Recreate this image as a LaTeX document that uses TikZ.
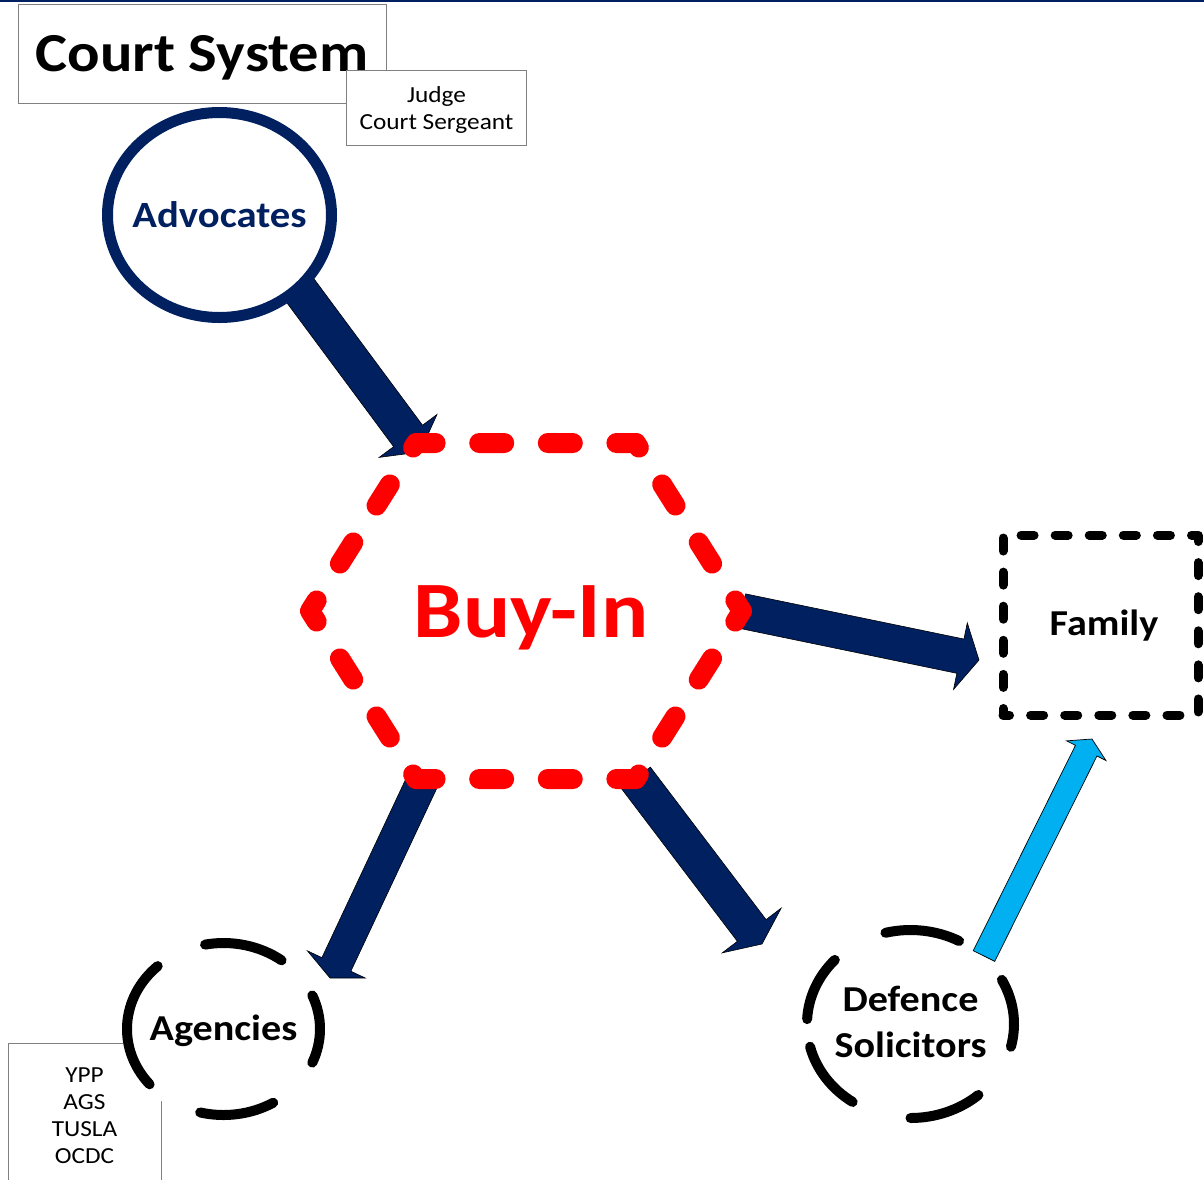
\documentclass[tikz,border=0pt]{standalone}
\usepackage{fontspec}
\setmainfont{Carlito}[FakeStretch=1.1]
\usetikzlibrary{calc,shapes.geometric}
\pgfdeclarelayer{bg}
\pgfsetlayers{bg,main}
\definecolor{navy}{HTML}{002060}
\definecolor{skyb}{HTML}{00B0F0}
\definecolor{boxgray}{HTML}{808080}
\definecolor{buyred}{HTML}{FF0000}
% #1 style, #2 start, #3 tip, #4 shaft half width, #5 head half width, #6 head length
\newcommand\drawblockarrow[6]{%
  \coordinate (baA) at ($(#3)!#6!(#2)$);
  \filldraw[#1] ($(#2)!#4!90:(#3)$) -- ($(baA)!#4!90:(#3)$) -- ($(baA)!#5!90:(#3)$) -- (#3)
    -- ($(baA)!#5!-90:(#3)$) -- ($(baA)!#4!-90:(#3)$) -- ($(#2)!#4!-90:(#3)$) -- cycle;}
\begin{document}
\begin{tikzpicture}[x=1pt,y=-1pt,
  boxline/.style={draw=boxgray, line width=1pt},
  navyarrow/.style={fill=navy, draw=black, line width=0.6pt, line join=miter},
  skyarrow/.style={fill=skyb, draw=black, line width=0.7pt, line join=miter},
  ringdash/.style={draw=black, line width=10pt, line cap=round},
  hexdash/.style={draw=buyred, line width=20pt, line cap=round, line join=round,
                  dash pattern=on 25pt off 43.59pt, dash phase=12.5pt},
  famdash/.style={draw=black, line width=9pt, line cap=round, line join=round,
                  dash pattern=on 13pt off 21.09pt, dash phase=6.5pt},
  bigbold/.style={font=\bfseries\fontsize{36.5}{46}\selectfont}]
\useasboundingbox (0,0) rectangle (1204,1179);
\draw[navy, line width=1.8pt] (0,0.9) -- (1204,0.9);

% Court system
\node[boxline, minimum width=368pt, minimum height=99pt, inner sep=0pt,
      text height=35pt, text depth=0pt, font=\bfseries\fontsize{55}{60}\selectfont]
      (court) at (202,53.5) {Court System};
\node[boxline, fill=white, minimum width=180pt, minimum height=75pt, inner sep=0pt]
      (judge) at (436,107.5) {};
\node[align=center, inner sep=0pt, font=\fontsize{23}{27}\selectfont]
      (judgetxt) at (436.5,110) {Judge\\Court Sergeant};

% Advocates
\coordinate (advc) at (219.5,215);
\draw[navy, line width=11pt, fill=white] (advc) ellipse [x radius=112, y radius=102.5];
\node[inner sep=0pt, text=navy, text height=24pt, text depth=0pt,
      font=\bfseries\fontsize{37}{40}\selectfont] (adv) at (advc) {Advocates};

% Buy-In
\node[text=buyred, text height=52pt, text depth=0pt, inner sep=0pt,
      font=\bfseries\fontsize{80}{90}\selectfont] (buy) at (531,611) {Buy-In};
\coordinate (hL) at (310,611);
\coordinate (hTL) at (416,443);
\coordinate (hTR) at (636,443);
\coordinate (hR) at (742,611);
\coordinate (hBR) at (636,779);
\coordinate (hBL) at (416,779);
\draw[hexdash] (hL) -- (hTL) -- (hTR) -- (hR) -- (hBR) -- (hBL) -- cycle;

% Family
\node[famdash, minimum width=195pt, minimum height=180pt, inner sep=0pt,
      text height=20pt, text depth=0pt, font=\bfseries\fontsize{36.5}{40}\selectfont]
      (fam) at (1100.5,625) {\hspace*{7pt}Family};

% Agencies list
\node[boxline, minimum width=153pt, minimum height=160pt, anchor=north west, inner sep=0pt]
      (listbox) at (8,1043) {};
\node[align=center, inner sep=0pt, font=\fontsize{23}{26.7}\selectfont]
      (list) at (84.5,1115.7) {YPP\\AGS\\TUSLA\\OCDC};

% Agencies
\coordinate (agc) at (223.5,1029);
\fill[white] (agc) ellipse [x radius=101.5, y radius=91];
\node[inner sep=0pt, text height=22pt, text depth=0pt, bigbold] (ag) at (agc) {Agencies};
\foreach \a/\b in {259/307,337/383,59/104,140/227}
  \draw[ringdash] ($(agc)+(\a:96.5 and 86)$) arc[start angle=\a, end angle=\b, x radius=96.5, y radius=86];

% Defence solicitors
\coordinate (defc) at (910.5,1024);
\node[align=center, inner sep=0pt, bigbold] (def) at (910.5,1022) {Defence\\Solicitors};
\foreach \a/\b in {256/298,332/374,49/90,124/166,183/223}
  \draw[ringdash] ($(defc)+(\a:103.5 and 94)$) arc[start angle=\a, end angle=\b, x radius=103.5, y radius=94];

% Arrows
\begin{pgfonlayer}{bg}
\coordinate (advS) at (285,270);  \coordinate (advE) at (420,452);
\coordinate (famS) at (742,611);  \coordinate (famE) at (979,660);
\coordinate (agS) at (423,780);   \coordinate (agE) at (330,978);
\coordinate (defS) at (636,778);  \coordinate (defE) at (762,944);
\coordinate (dfS) at (984,956);   \coordinate (dfE) at (1092,739);
\drawblockarrow{navyarrow}{advS}{advE}{18pt}{36pt}{20pt}
\drawblockarrow{navyarrow}{famS}{famE}{17.5pt}{34pt}{19pt}
\drawblockarrow{navyarrow}{agS}{agE}{16pt}{32pt}{15pt}
\drawblockarrow{navyarrow}{defS}{defE}{18pt}{37pt}{17pt}
\drawblockarrow{skyarrow}{dfS}{dfE}{12pt}{22pt}{13pt}
\end{pgfonlayer}
\end{tikzpicture}
\end{document}
